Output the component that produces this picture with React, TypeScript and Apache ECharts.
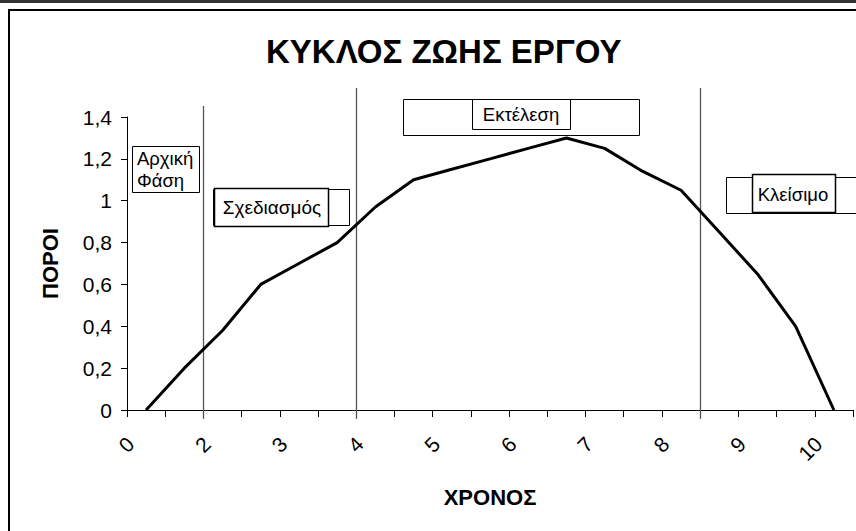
import React, { useEffect, useRef } from "react";
import * as echarts from "echarts";

const categories = ["0", "1", "2", "2,5", "3", "3,5", "4", "4,5", "5", "5,5", "6", "6,5", "7", "7,5", "8", "8,5", "9", "9,5", "10"];
const resources = [0, 0.2, 0.38, 0.6, 0.7, 0.8, 0.97, 1.1, 1.15, 1.2, 1.25, 1.3, 1.25, 1.14, 1.05, 0.85, 0.65, 0.4, 0];
const phaseBoundaries = [2, 6, 15];
const phaseLineTops = [106, 88, 88];

const FONT = "'Liberation Sans', Arial, sans-serif";

export default function App() {
  const ref = useRef<HTMLDivElement>(null);
  useEffect(() => {
    if (!ref.current) return;
    const chart = echarts.init(ref.current, null, { renderer: "svg" });
    chart.setOption({
      animation: false,
      backgroundColor: "#ffffff",
      title: {
        text: "ΚΥΚΛΟΣ ΖΩΗΣ ΕΡΓΟΥ",
        left: 261,
        top: 30,
        textStyle: { fontFamily: FONT, fontSize: 33, fontWeight: "bold", color: "#000" },
      },
      grid: { left: 127, right: 3, top: 117, bottom: 121 },
      xAxis: {
        type: "category",
        data: categories,
        boundaryGap: true,
        name: "ΧΡΟΝΟΣ",
        nameLocation: "middle",
        nameGap: 76,
        nameTextStyle: { fontFamily: FONT, fontSize: 22, fontWeight: "bold", color: "#000" },
        axisLine: { lineStyle: { color: "#000", width: 1 } },
        axisTick: { show: true, interval: 0, length: 7, alignWithLabel: false, lineStyle: { color: "#000" } },
        axisLabel: {
          interval: 1,
          rotate: 45,
          margin: 15,
          padding: [0, 22, 0, 0],
          fontFamily: FONT,
          fontSize: 21,
          color: "#000",
        },
        splitLine: { show: false },
      },
      yAxis: {
        type: "value",
        min: 0,
        max: 1.4,
        interval: 0.2,
        name: "ΠΟΡΟΙ",
        nameLocation: "middle",
        nameRotate: 90,
        nameGap: 66,
        nameTextStyle: { fontFamily: FONT, fontSize: 22, fontWeight: "bold", color: "#000" },
        axisLine: { show: true, lineStyle: { color: "#000", width: 1 } },
        axisTick: { show: true, length: 6, lineStyle: { color: "#000" } },
        axisLabel: {
          margin: 15,
          fontFamily: FONT,
          fontSize: 21,
          color: "#000",
          formatter: (v: number) => String(+v.toFixed(1)).replace(".", ","),
        },
        splitLine: { show: false },
      },
      series: [
        {
          type: "line",
          data: resources,
          showSymbol: false,
          symbol: "none",
          lineStyle: { color: "#000", width: 3 },
          z: 3,
        },
      ],
    });

    const c0 = chart.convertToPixel({ xAxisIndex: 0 }, categories[0]) as number;
    const c1 = chart.convertToPixel({ xAxisIndex: 0 }, categories[1]) as number;
    const bw = c1 - c0;
    const y0 = chart.convertToPixel({ yAxisIndex: 0 }, 0) as number;

    const lines = phaseBoundaries.map((idx, i) => {
      const cx = (chart.convertToPixel({ xAxisIndex: 0 }, categories[idx]) as number) - bw / 2;
      const x = Math.round(cx) + 0.5;
      return {
        type: "line",
        z: 2,
        shape: { x1: x, y1: phaseLineTops[i], x2: x, y2: y0 + 9 },
        style: { stroke: "#555", lineWidth: 1.3 },
      };
    });

    const box = (x: number, y: number, w: number, h: number, lw = 1) => ({
      type: "rect",
      z: 100,
      shape: { x: x + 0.5, y: y + 0.5, width: w, height: h },
      style: { fill: "#fff", stroke: "#000", lineWidth: lw },
    });
    const txt = (x: number, y: number, text: string, align = "center", size = 18.5) => ({
      type: "text",
      z: 101,
      x,
      y,
      style: {
        text,
        fontFamily: FONT,
        fontSize: size,
        fill: "#000",
        align,
        verticalAlign: "middle",
        lineHeight: 22,
      },
    });

    chart.setOption({
      graphic: [
        { type: "rect", z: 200, shape: { x: 0, y: 0, width: 856, height: 3 }, style: { fill: "#333" } },
        {
          type: "rect",
          z: 200,
          shape: { x: 9, y: 10, width: 900, height: 600 },
          style: { fill: "none", stroke: "#000", lineWidth: 2 },
        },
        ...lines,
        box(132, 146, 67, 46),
        txt(137, 169, "Αρχική\nΦάση", "left"),
        box(213, 189, 136, 36),
        box(214, 188, 114, 38, 1.5),
        txt(272, 207, "Σχεδιασμός", "center", 19),
        box(403, 99, 236, 36),
        box(472, 99, 98, 30),
        txt(521, 114, "Εκτέλεση"),
        box(726, 177, 140, 36),
        box(752, 174, 83, 38, 1.5),
        txt(793, 194, "Κλείσιμο"),
      ],
    });

    return () => chart.dispose();
  }, []);
  return <div ref={ref} style={{ position: "absolute", left: 0, top: 0, width: 856, height: 531 }} />;
}
